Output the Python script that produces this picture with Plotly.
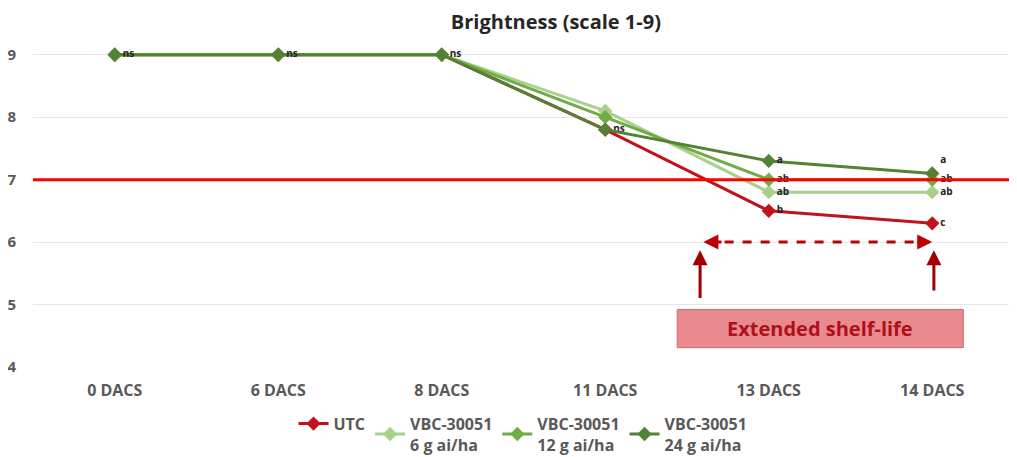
import plotly.graph_objects as go

categories = ["0 DACS", "6 DACS", "8 DACS", "11 DACS", "13 DACS", "14 DACS"]
series_names = ["UTC", "VBC-30051<br>6 g ai/ha", "VBC-30051<br>12 g ai/ha", "VBC-30051<br>24 g ai/ha"]
utc = [9, 9, 9, 7.8, 6.5, 6.3]
vbc_6 = [9, 9, 9, 8.1, 6.8, 6.8]
vbc_12 = [9, 9, 9, 8.0, 7.0, 7.0]
vbc_24 = [9, 9, 9, 7.8, 7.3, 7.1]
labels_utc = ["", "", "", "ns", "b", "c"]
labels_6 = ["", "", "", "", "ab", "ab"]
labels_12 = ["", "", "", "", "ab", "ab"]
labels_24 = ["ns", "ns", "ns", "", "a", "a"]
threshold = 7
y_ticks = [4, 5, 6, 7, 8, 9]

colors = ["#C0141C", "#A9D18E", "#70AD47", "#548235"]
values = [utc, vbc_6, vbc_12, vbc_24]
texts = [labels_utc, labels_6, labels_12, labels_24]
positions = [["middle right"] * 6, ["middle right"] * 6, ["middle right"] * 6,
             ["middle right"] * 5 + ["top right"]]

FONT = "Open Sans"
x_idx = list(range(len(categories)))
fig = go.Figure()
for name, vals, col, txt, pos in zip(series_names, values, colors, texts, positions):
    fig.add_trace(go.Scatter(
        x=x_idx, y=vals, name=f"<b>{name}</b>", mode="lines+markers+text",
        line=dict(color=col, width=3),
        marker=dict(symbol="diamond", size=11, color=col),
        text=[f"<b>{t}</b>" if t else "" for t in txt], textposition=pos,
        textfont=dict(family=FONT, size=10, color="#222222"),
    ))

axis_font = dict(family=FONT, size=15, color="#595959")

# page body has an 8px offset; figure is sized so that it fills the 1017x457 window
fig.update_layout(
    width=1009, height=449,
    margin=dict(l=25, r=3, t=28, b=90, autoexpand=False),
    paper_bgcolor="white", plot_bgcolor="white",
    title=dict(text="<b>Brightness (scale 1-9)</b>", x=0.543, xanchor="center", y=0.968, yanchor="middle",
               font=dict(family=FONT, size=20, color="#262626")),
    xaxis=dict(tickmode="array", tickvals=x_idx, ticktext=[f"<b>{c}</b>" for c in categories],
               range=[-0.5, 5.5], showgrid=False, zeroline=False, showline=False,
               tickfont=dict(family=FONT, size=16, color="#595959"), ticks="", ticklabelstandoff=12),
    yaxis=dict(range=[4, 9.3], tickvals=y_ticks, ticktext=[f"<b>{v}</b>" for v in y_ticks],
               showgrid=True, gridcolor="#E6E6E6", zeroline=False, tickfont=axis_font, ticks="",
               ticklabelstandoff=16),
    legend=dict(orientation="h", x=0.4995, xanchor="center", yref="container", y=0.112, yanchor="top",
                font=dict(family=FONT, size=16, color="#595959"),
                itemwidth=30, tracegroupgap=0),
    showlegend=True,
)

# threshold line
fig.add_shape(type="line", xref="paper", x0=0, x1=1.003, yref="y", y0=threshold, y1=threshold,
              line=dict(color="#FF0000", width=3), layer="above")

# extended shelf-life annotations
fig.add_shape(type="line", x0=3.62, x1=4.98, y0=6, y1=6, line=dict(color="#C00000", width=3, dash="dash"))
fig.add_annotation(x=3.6, y=6, ax=3.72, ay=6, xref="x", yref="y", axref="x", ayref="y",
                   showarrow=True, arrowhead=2, arrowsize=1, arrowwidth=3, arrowcolor="#C00000", text="")
fig.add_annotation(x=5.0, y=6, ax=4.9, ay=6, xref="x", yref="y", axref="x", ayref="y",
                   showarrow=True, arrowhead=2, arrowsize=1, arrowwidth=3, arrowcolor="#C00000", text="")
fig.add_annotation(x=3.58, y=5.87, ax=3.58, ay=5.08, xref="x", yref="y", axref="x", ayref="y",
                   showarrow=True, arrowhead=2, arrowsize=1, arrowwidth=3, arrowcolor="#A00000", text="")
fig.add_annotation(x=5.01, y=5.87, ax=5.01, ay=5.2, xref="x", yref="y", axref="x", ayref="y",
                   showarrow=True, arrowhead=2, arrowsize=1, arrowwidth=3, arrowcolor="#A00000", text="")
fig.add_shape(type="rect", x0=3.44, x1=5.19, y0=4.31, y1=4.92,
              fillcolor="#E88A8E", line=dict(color="#D06A70", width=1))
fig.add_annotation(x=4.315, y=4.615, text="<b>Extended shelf-life</b>", showarrow=False,
                   font=dict(family=FONT, size=20, color="#B0101A"))

fig.write_html("out.html")
